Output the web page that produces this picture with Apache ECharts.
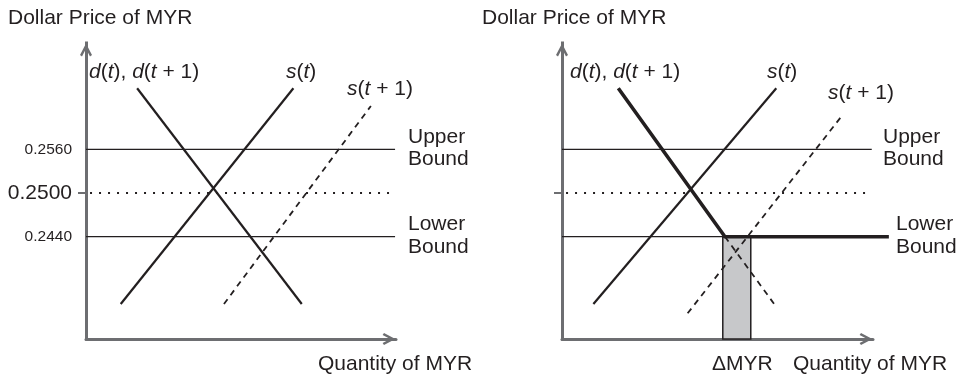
<!DOCTYPE html>
<html>
<head>
<meta charset="utf-8">
<script src="https://cdn.jsdelivr.net/npm/echarts@6/dist/echarts.min.js"></script>
<style>
  html, body { margin: 0; padding: 0; background: #ffffff; }
  #chart { width: 960px; height: 377px; }
</style>
</head>
<body>
<div id="chart"></div>
<script>
// ---------- data (price in USD per MYR, quantity in abstract units 0-100) ----------
const priceTicks = [0.2440, 0.2500, 0.2560];
const centralTick = [0.2500];
const upperBound = 0.2560;
const centralRate = 0.2500;
const lowerBound = 0.2440;

// left panel
const upperLeft   = [[0, upperBound], [99.7, upperBound]];
const lowerLeft   = [[0, lowerBound], [99.7, lowerBound]];
const centralLeft = [[1.3, centralRate], [99.7, centralRate]];
const demandLeft  = [[16.5, 0.26438], [69.6, 0.23476]];
const supplyLeft  = [[11.2, 0.23476], [66.9, 0.26438]];
const supplyNextLeft = [[44.5, 0.23476], [91.9, 0.26195]];

// right panel
const upperRight   = [[0, upperBound], [99.6, upperBound]];
const lowerThinRight = [[0, lowerBound], [52.4, lowerBound]];
const centralRight = [[1.3, centralRate], [99.6, centralRate]];
const demandFloorRight = [[18.1, 0.26438], [52.4, lowerBound], [105.1, lowerBound]];
const demandDashRight = [[52.4, lowerBound], [68.3, 0.23472]];
const supplyRight  = [[10.1, 0.23476], [68.9, 0.26438]];
const supplyNextRight = [[40.4, 0.23348], [90.2, 0.26071]];
const interventionBar = [[51.7, 60.7, lowerBound]]; // [qStart, qEnd, price]

// ---------- styling ----------
const INK = '#231f20';
const AXIS = '#6d6e71';
const FONT = '"Liberation Sans", Arial, Helvetica, sans-serif';
const chevron = 'path://M6,0 L12,11.4 L10,12.8 L6,5.2 L2,12.8 L0,11.4 Z';
const yMin = 0.229954, yMax = 0.270596;

function xAxisCfg(gi) {
  return {
    type: 'value', gridIndex: gi, min: 0, max: 100,
    splitLine: { show: false },
    axisTick: { show: false },
    axisLabel: { show: false },
    axisLine: {
      show: true, onZero: false,
      symbol: ['none', chevron], symbolSize: [12, 14], symbolOffset: [0, -7],
      lineStyle: { color: AXIS, width: 3 }
    }
  };
}
function yAxisCfg(gi, showLabels) {
  return {
    type: 'value', gridIndex: gi, min: yMin, max: yMax,
    splitLine: { show: false },
    axisTick: { show: true, customValues: centralTick, length: 8, lineStyle: { color: AXIS, width: 2 } },
    axisLabel: {
      show: showLabels, customValues: priceTicks, margin: 14,
      formatter: function (v) {
        return Math.abs(v - centralRate) < 1e-9 ? '{big|' + v.toFixed(4) + '}' : '{small|' + v.toFixed(4) + '}';
      },
      rich: {
        big: { fontSize: 21, fontFamily: FONT, color: INK },
        small: { fontSize: 15.5, fontFamily: FONT, color: INK }
      }
    },
    axisLine: {
      show: true, onZero: false,
      symbol: ['none', chevron], symbolSize: [12, 14], symbolOffset: [0, -7],
      lineStyle: { color: AXIS, width: 3, cap: 'square' }
    }
  };
}
function lineSeries(gi, data, style, extra) {
  return Object.assign({
    type: 'line', xAxisIndex: gi, yAxisIndex: gi, data: data,
    symbol: 'none', silent: true, animation: false, z: 3,
    lineStyle: Object.assign({ color: INK, width: 2.2, cap: 'butt' }, style)
  }, extra || {});
}

const thin = { width: 1.2 };
const dotted = { width: 2, type: [2, 7] };
const dashed = { width: 1.8, type: [6, 5] };

const richItalic = {
  i: { fontStyle: 'italic', fontSize: 21, fontFamily: FONT, fill: INK }
};
function label(x, y, text, rich) {
  return {
    type: 'text', x: x, y: y, silent: true,
    style: {
      text: text, fontSize: 21, fontFamily: FONT, fill: INK,
      verticalAlign: 'middle', align: 'left', lineHeight: 23,
      rich: rich || undefined
    }
  };
}

const option = {
  backgroundColor: '#ffffff',
  animation: false,
  grid: [
    { left: 86, top: 43, width: 310, height: 296 },
    { left: 562, top: 43, width: 311, height: 296 }
  ],
  xAxis: [xAxisCfg(0), xAxisCfg(1)],
  yAxis: [yAxisCfg(0, true), yAxisCfg(1, false)],
  series: [
    lineSeries(0, upperLeft, thin),
    lineSeries(0, lowerLeft, thin),
    lineSeries(0, centralLeft, dotted),
    lineSeries(0, demandLeft, {}),
    lineSeries(0, supplyLeft, {}),
    lineSeries(0, supplyNextLeft, dashed),

    {
      type: 'custom', xAxisIndex: 1, yAxisIndex: 1, data: interventionBar,
      silent: true, animation: false, z: 1,
      encode: { x: [0, 1], y: 2 },
      renderItem: function (params, api) {
        const p0 = api.coord([api.value(0), api.value(2)]);
        const p1 = api.coord([api.value(1), api.value(2)]);
        const bottom = params.coordSys.y + params.coordSys.height;
        return {
          type: 'rect',
          shape: { x: p0[0], y: p0[1], width: p1[0] - p0[0], height: bottom - p0[1] },
          style: { fill: '#c7c8ca', stroke: INK, lineWidth: 1.5 }
        };
      }
    },
    lineSeries(1, upperRight, thin),
    lineSeries(1, lowerThinRight, thin),
    lineSeries(1, centralRight, dotted),
    lineSeries(1, supplyRight, {}),
    lineSeries(1, supplyNextRight, dashed),
    lineSeries(1, demandDashRight, dashed),
    {
      // thick demand curve with the floor at the lower bound (extends beyond the axis end)
      type: 'custom', xAxisIndex: 1, yAxisIndex: 1, data: demandFloorRight,
      silent: true, animation: false, z: 4, clip: false,
      encode: { x: 0, y: 1 },
      renderItem: function (params, api) {
        if (params.dataIndex !== 0) return null;
        const pts = demandFloorRight.map(function (d) { return api.coord(d); });
        return {
          type: 'polyline',
          shape: { points: pts },
          style: { stroke: INK, lineWidth: 3.6, fill: null, lineJoin: 'miter' }
        };
      }
    }
  ],
  graphic: [
    label(8, 18, 'Dollar Price of MYR'),
    label(89, 72, '{i|d}(' + '{i|t}), {i|d}({i|t} + 1)', richItalic),
    label(286, 72, '{i|s}({i|t})', richItalic),
    label(347, 89, '{i|s}({i|t} + 1)', richItalic),
    label(408, 137, 'Upper'),
    label(408, 159.5, 'Bound'),
    label(408, 224, 'Lower'),
    label(408, 247.5, 'Bound'),
    label(318, 364, 'Quantity of MYR'),

    label(482, 18, 'Dollar Price of MYR'),
    label(570, 72, '{i|d}(' + '{i|t}), {i|d}({i|t} + 1)', richItalic),
    label(767, 72, '{i|s}({i|t})', richItalic),
    label(828, 93, '{i|s}({i|t} + 1)', richItalic),
    label(883, 137, 'Upper'),
    label(883, 159.5, 'Bound'),
    label(896, 224, 'Lower'),
    label(896, 247.5, 'Bound'),
    label(712, 364, '\u0394MYR'),
    label(793, 364, 'Quantity of MYR')
  ]
};

const chart = echarts.init(document.getElementById('chart'), null, { renderer: 'canvas' });
chart.setOption(option);
</script>
</body>
</html>
